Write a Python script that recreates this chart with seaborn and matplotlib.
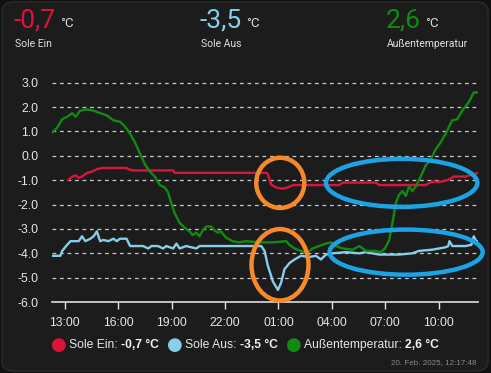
import pandas as pd
import seaborn as sns
import matplotlib.pyplot as plt
import matplotlib.dates as mdates
from matplotlib.patches import Ellipse, FancyBboxPatch

# --- data ---
sole_ein_times = ["13:11", "13:25", "13:36", "13:47", "13:58", "14:15", "14:31", "14:48", "15:05",
                  "16:28", "16:34", "16:51", "19:05", "19:10", "00:19", "00:24", "00:35", "00:52",
                  "01:15", "01:31", "01:48", "04:25", "04:36", "06:28", "06:39", "09:16", "09:27",
                  "09:44", "10:01", "10:29", "10:51", "11:30", "11:52", "12:13"]
sole_ein_vals = [-1.0, -0.85, -0.8, -0.9, -0.85, -0.7, -0.65, -0.55, -0.5,
                 -0.5, -0.55, -0.6, -0.6, -0.7, -0.7, -0.75, -1.18, -1.3,
                 -1.35, -1.3, -1.2, -1.2, -1.1, -1.1, -1.2, -1.2, -1.12,
                 -1.05, -1.08, -1.0, -0.85, -0.85, -0.77, -0.7]

sole_aus_times = ["12:17", "12:45", "12:51", "13:08", "13:19", "13:47", "13:58", "14:09", "14:26",
                  "14:37", "14:48", "14:59", "15:10", "15:27", "15:44", "15:55", "16:06", "16:28",
                  "16:40", "17:24", "17:41", "17:52", "18:14", "18:31", "18:42", "19:05", "19:16",
                  "19:27", "19:49", "20:23", "20:34", "00:02", "00:13", "00:24", "00:41", "00:58",
                  "01:09", "01:20", "01:37", "01:54", "02:16", "02:44", "03:06", "03:23", "03:40",
                  "04:02", "04:47", "05:32", "05:54", "06:17", "06:39", "07:46", "08:31", "08:53",
                  "09:38", "10:01", "10:23", "10:32", "10:36", "10:46", "11:30", "11:50", "11:58",
                  "12:06", "12:13"]
sole_aus_vals = [-4.1, -4.1, -3.9, -3.65, -3.5, -3.5, -3.3, -3.5, -3.4,
                 -3.3, -3.1, -3.5, -3.45, -3.5, -3.4, -3.5, -3.4, -3.4,
                 -3.7, -3.7, -3.8, -3.7, -3.7, -3.8, -3.7, -3.8, -3.6,
                 -3.8, -3.7, -3.8, -3.7, -3.7, -3.9, -4.5, -5.15, -5.5,
                 -5.2, -4.65, -4.4, -4.25, -4.1, -4.15, -4.1, -4.25, -4.05,
                 -4.0, -3.95, -4.0, -3.95, -4.0, -4.05, -4.05, -4.0, -3.9,
                 -3.85, -3.8, -3.75, -3.7, -3.5, -3.7, -3.7, -3.65, -3.3,
                 -3.5, -3.5]

aussen_times = ["12:17", "12:34", "12:51", "13:08", "13:25", "13:36", "13:52", "14:15", "14:37",
                "14:59", "15:22", "15:44", "16:06", "16:23", "16:40", "16:56", "17:13", "17:30",
                "17:47", "18:03", "18:20", "18:37", "18:48", "18:59", "19:10", "19:27", "19:44",
                "20:00", "20:11", "20:23", "20:34", "20:45", "20:56", "21:13", "21:24", "21:35",
                "21:46", "22:03", "22:25", "22:48", "23:11", "23:56", "00:41", "01:26", "01:37",
                "01:54", "02:16", "02:33", "02:55", "03:17", "03:40", "03:57", "04:14", "04:36",
                "05:10", "05:32", "05:55", "06:28", "06:45", "06:59", "07:13", "07:24", "07:35",
                "07:46", "07:58", "08:09", "08:20", "08:31", "08:43", "08:59", "09:16", "09:33",
                "09:49", "10:06", "10:23", "10:45", "11:02", "11:19", "11:41", "11:58", "12:13"]
aussen_vals = [0.95, 1.15, 1.5, 1.6, 1.75, 1.6, 1.85, 1.9, 1.85,
               1.75, 1.65, 1.45, 1.4, 1.2, 0.9, 0.55, 0.1, -0.35,
               -0.65, -0.85, -1.2, -1.3, -1.5, -1.95, -2.35, -2.75, -2.95,
               -3.1, -3.25, -3.15, -3.3, -3.05, -2.9, -2.9, -3.05, -3.15,
               -3.1, -3.35, -3.5, -3.55, -3.5, -3.55, -3.55, -3.5, -3.65,
               -3.8, -3.9, -4.0, -3.8, -3.7, -3.6, -3.55, -3.7, -3.8,
               -3.85, -3.7, -3.9, -3.9, -3.95, -3.8, -3.45, -2.75, -1.95,
               -1.6, -1.45, -1.65, -1.25, -1.45, -1.25, -0.85, -0.4, -0.15,
               0.25, 0.55, 0.9, 1.45, 1.5, 1.85, 2.2, 2.6, 2.6]

series_names = ["Sole Ein", "Sole Aus", "Außentemperatur"]
current_vals = ["-0,7", "-3,5", "2,6"]
colors = ["#dc143c", "#87ceeb", "#128a12"]
stamp = "20. Feb. 2025, 12:17:48"

# markers drawn over the screenshot: (centre time, day, centre value, width hours, height)
highlight_orange = [("01:06", 20, -1.11, 2.7, 2.06), ("01:05", 20, -4.47, 3.2, 2.93)]
highlight_blue = [("07:55", 20, -1.11, 8.5, 1.97), ("08:10", 20, -3.95, 8.6, 1.85)]


def to_stamps(times):
    out, day = [], 19
    prev = "00:00"
    for t in times:
        if t < prev:
            day += 1
        prev = t
        out.append(pd.Timestamp(f"2025-02-{day} {t}"))
    return out


frames = []
for name, t, v in zip(series_names, [sole_ein_times, sole_aus_times, aussen_times],
                      [sole_ein_vals, sole_aus_vals, aussen_vals]):
    frames.append(pd.DataFrame({"time": to_stamps(t), "temp": v, "series": name}))
df = pd.concat(frames, ignore_index=True)

sns.set_style("dark")
plt.rcParams['font.family'] = ['Roboto', 'DejaVu Sans']
chart_font = ['Liberation Sans', 'DejaVu Sans']

bg = "#1c1c1c"
fig = plt.figure(figsize=(4.91, 3.73), dpi=100, facecolor="#111111")
card = FancyBboxPatch((0.004, 0.005), 0.99, 0.99, boxstyle="round,pad=0,rounding_size=0.025",
                      transform=fig.transFigure, facecolor=bg, edgecolor="#2c2c2c",
                      linewidth=1, zorder=-10)
fig.patches.append(card)
ax = fig.add_axes([0.106, 0.19, 0.868, 0.595])
ax.set_zorder(5)
ax.set_facecolor(bg)

sns.lineplot(data=df, x="time", y="temp", hue="series", palette=dict(zip(series_names, colors)),
             linewidth=1.7, legend=False, ax=ax, zorder=3)

ax.set_ylim(-6, 3.1)
ax.set_xlim(df["time"].min(), df["time"].max())
ax.set_yticks(range(-6, 4))
ax.set_yticklabels([f"{v:.1f}" for v in range(-6, 4)])
ax.yaxis.grid(True, color="#c8c8c8", linestyle=(0, (3, 3)), linewidth=0.9)
ax.xaxis.grid(False)
ax.xaxis.set_major_locator(mdates.HourLocator(byhour=[1, 4, 7, 10, 13, 16, 19, 22]))
ax.xaxis.set_major_formatter(mdates.DateFormatter("%H:%M"))
ax.tick_params(axis="x", bottom=True, colors="#e6e6e6", labelsize=8.7, length=5, width=1,
               direction="out", pad=6)
ax.tick_params(axis="y", left=False, colors="#e6e6e6", labelsize=8.7, length=0, pad=10)
for lbl in ax.get_xticklabels() + ax.get_yticklabels():
    lbl.set_family(chart_font)
for s in ["left", "right", "top"]:
    ax.spines[s].set_visible(False)
ax.spines["bottom"].set_color("#dddddd")
ax.spines["bottom"].set_linewidth(1.2)
ax.set_xlabel("")
ax.set_ylabel("")

for group, col in [(highlight_orange, "#f7892a"), (highlight_blue, "#1ba3e6")]:
    for t, day, v, w, h in group:
        c = pd.Timestamp(f"2025-02-{day} {t}")
        ax.add_patch(Ellipse((mdates.date2num(c), v), w / 24, h, fill=False, edgecolor=col,
                             linewidth=3.2, zorder=6, clip_on=False))

# header values
xs = [0.028, 0.407, 0.786]
for x, name, val, col in zip(xs, series_names, current_vals, colors):
    t = ax.annotate(val, xy=(x, 0.945), xycoords="figure fraction", color=col, fontsize=19,
                    va="center", ha="left", annotation_clip=False)
    ax.annotate("°C", xy=(1, 0), xycoords=t, xytext=(3, 2), textcoords="offset points",
                color="#dddddd", fontsize=9.5, va="bottom", ha="left", annotation_clip=False)
    fig.text(x + 0.002, 0.883, name, color="#e0e0e0", fontsize=7.5, va="center", ha="left")

# legend with bold values
prev = None
for i, (name, val, col) in enumerate(zip(series_names, current_vals, colors)):
    if prev is None:
        dot = ax.annotate("●", xy=(0.104, 0.076), xycoords="figure fraction", color=col, fontsize=13,
                          family="DejaVu Sans", va="center", ha="left", annotation_clip=False)
    else:
        dot = ax.annotate("●", xy=(1, 0.5), xycoords=prev, xytext=(6, 0), textcoords="offset points",
                          color=col, fontsize=13, family="DejaVu Sans", va="center", ha="left",
                          annotation_clip=False)
    lab = ax.annotate(f"{name}: ", xy=(1, 0.5), xycoords=dot, xytext=(1.5, 0), textcoords="offset points",
                      color="#e6e6e6", fontsize=8.7, family=chart_font, va="center", ha="left",
                      annotation_clip=False)
    prev = ax.annotate(f"{val} °C", xy=(1, 0.5), xycoords=lab, xytext=(0, 0), textcoords="offset points",
                       color="#f0f0f0", fontsize=8.7, fontweight="bold", family=chart_font,
                       va="center", ha="left", annotation_clip=False)

fig.text(0.97, 0.027, stamp, color="#888888", fontsize=5.8, family=chart_font, ha="right", va="center")

fig.savefig("out.png", dpi=100, facecolor=fig.get_facecolor())
